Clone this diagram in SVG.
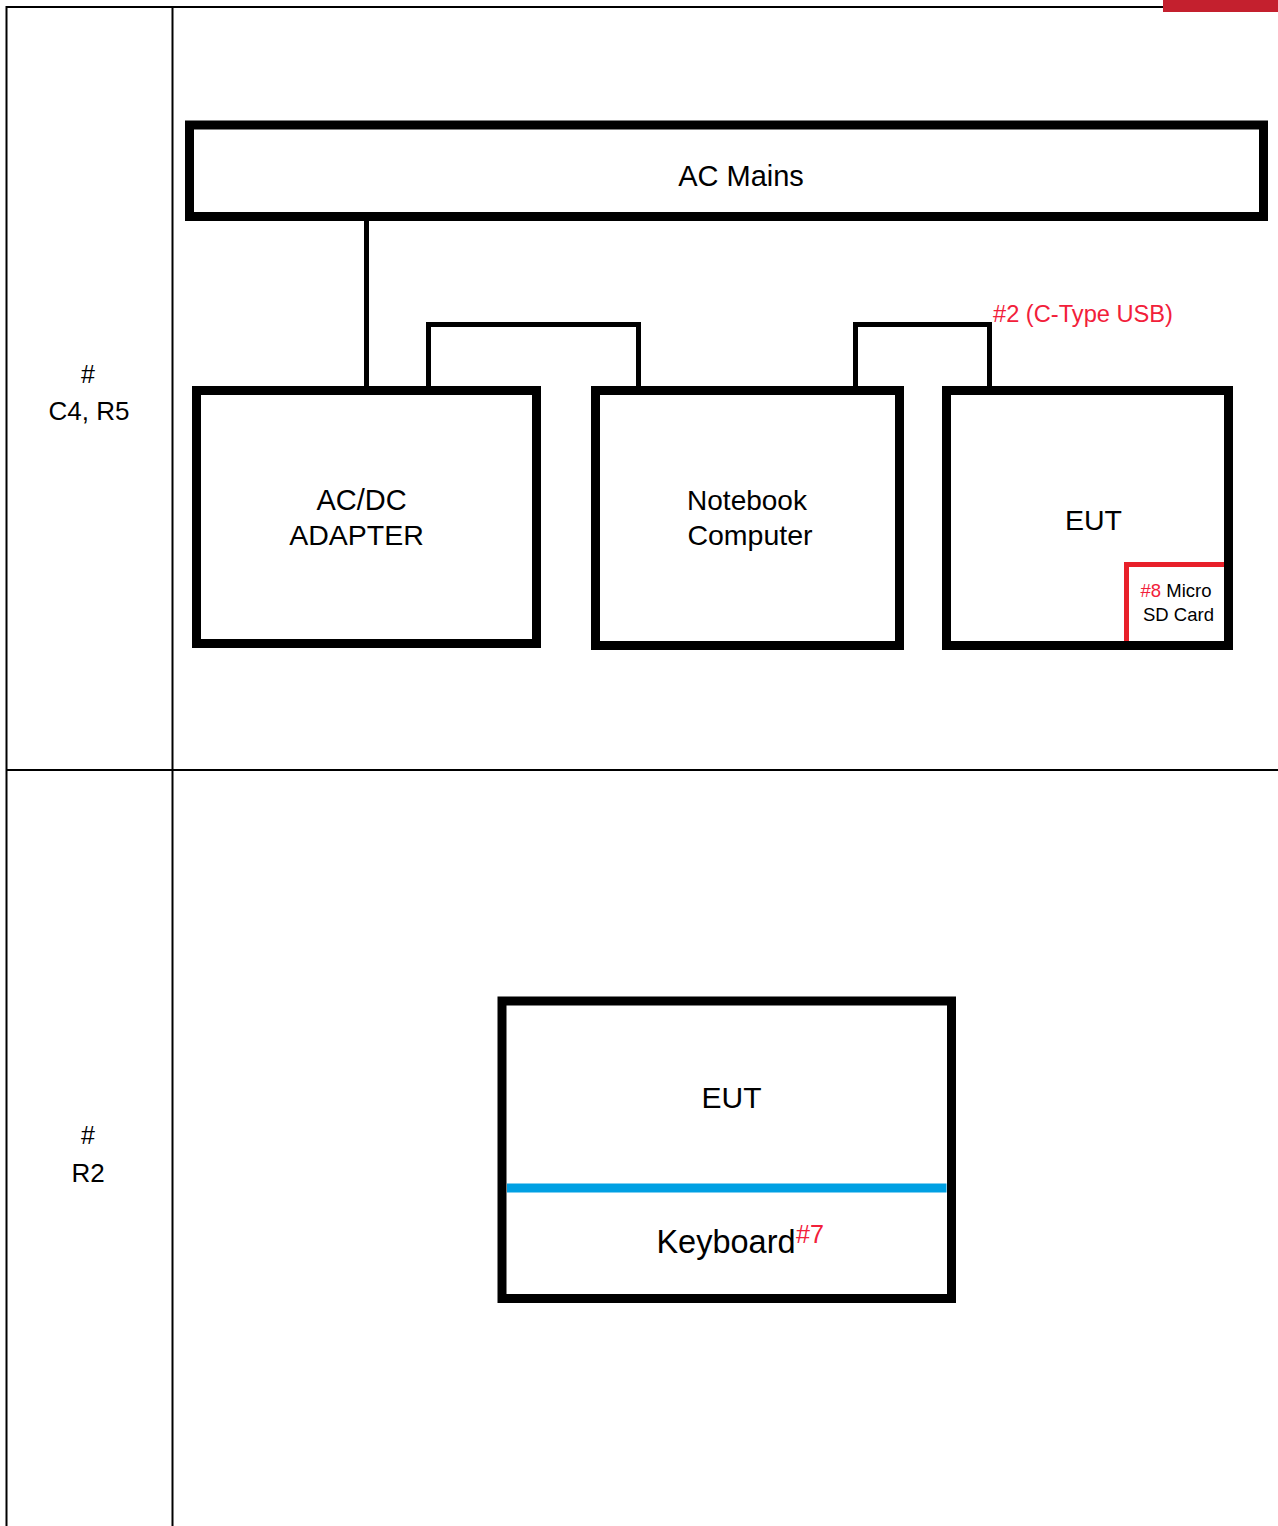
<svg xmlns="http://www.w3.org/2000/svg" width="1278" height="1526" viewBox="0 0 1278 1526">
<style>
.grid{stroke:#000;stroke-width:2;fill:none}
.box{fill:#fff;stroke:#000;stroke-width:9}
.wire{fill:none;stroke:#000;stroke-width:5}
.t{font-family:"Liberation Sans",Arial,sans-serif;fill:#000;text-anchor:middle}
.red{fill:#f2203a}
</style>
<rect x="0" y="0" width="1278" height="1526" fill="#fff"/>
<g id="table">
<line class="grid" x1="6" y1="7" x2="1278" y2="7"/>
<line class="grid" x1="6.5" y1="6" x2="6.5" y2="1526"/>
<line class="grid" x1="172.5" y1="7" x2="172.5" y2="1526"/>
<line class="grid" x1="6" y1="770" x2="1278" y2="770"/>
<rect x="1163" y="0" width="115" height="12" fill="#c4202e"/>
</g>
<g id="row-labels">
<text class="t" x="88" y="383" font-size="25">#</text>
<text class="t" x="89" y="420" font-size="26">C4, R5</text>
<text class="t" x="88" y="1144" font-size="25">#</text>
<text class="t" x="88" y="1182" font-size="26">R2</text>
</g>
<g id="connectors">
<line class="wire" x1="366.5" y1="220" x2="366.5" y2="388"/>
<polyline class="wire" points="428.5,388 428.5,324.5 638.5,324.5 638.5,388"/>
<polyline class="wire" points="855.5,388 855.5,324.5 989.5,324.5 989.5,388"/>
<text class="t red" x="993" y="322" font-size="23" style="text-anchor:start" textLength="180" lengthAdjust="spacingAndGlyphs">#2 (C-Type USB)</text>
</g>
<g id="ac-mains">
<rect class="box" x="189.5" y="125" width="1074" height="91.5"/>
<text class="t" x="741" y="186" font-size="29">AC Mains</text>
</g>
<g id="adapter">
<rect class="box" x="196.5" y="390.5" width="340" height="253"/>
<text class="t" x="361.5" y="510" font-size="29">AC/DC</text>
<text class="t" x="356.5" y="545" font-size="28.5">ADAPTER</text>
</g>
<g id="notebook">
<rect class="box" x="595.5" y="390.5" width="304" height="255"/>
<text class="t" x="747" y="510" font-size="28">Notebook</text>
<text class="t" x="750" y="545" font-size="28.5">Computer</text>
</g>
<g id="eut1">
<rect class="box" x="946.5" y="390.5" width="282" height="255"/>
<text class="t" x="1093.5" y="530" font-size="28.5">EUT</text>
<g id="microsd">
<polyline points="1126.5,641 1126.5,564.5 1224,564.5" fill="none" stroke="#e8202a" stroke-width="5"/>
<text class="t" x="1176" y="597" font-size="18.5"><tspan class="red">#8</tspan> Micro</text>
<text class="t" x="1178.5" y="621" font-size="18.5">SD Card</text>
</g>
</g>
<g id="eut2">
<rect class="box" x="502" y="1001" width="449.5" height="297.5"/>
<text class="t" x="731.5" y="1108" font-size="30">EUT</text>
<line x1="507" y1="1188" x2="946.5" y2="1188" stroke="#00a0e3" stroke-width="9"/>
<text class="t" x="726" y="1253" font-size="32.5">Keyboard</text>
<text class="t red" x="796" y="1243" font-size="25" style="text-anchor:start" textLength="28" lengthAdjust="spacingAndGlyphs">#7</text>
</g>
</svg>
